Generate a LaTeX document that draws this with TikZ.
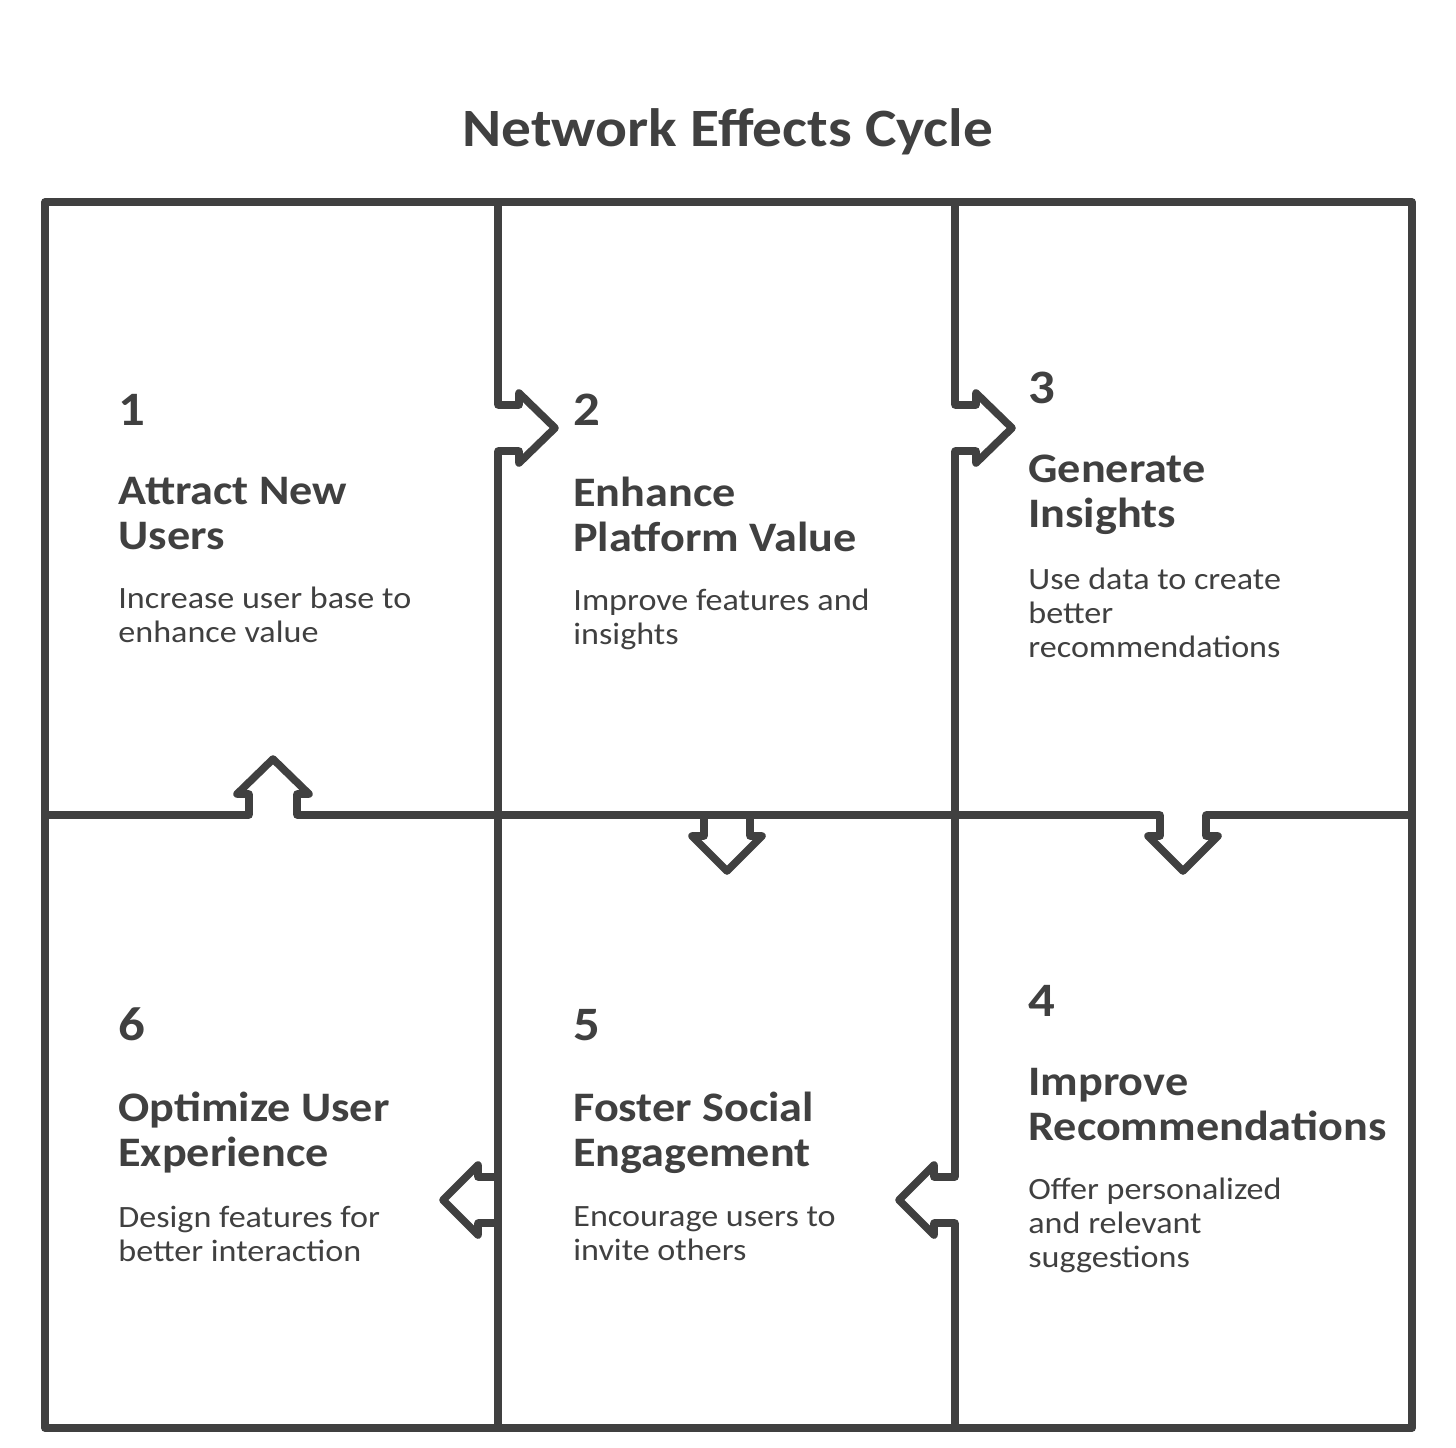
\documentclass[tikz,border=0pt]{standalone}
\usepackage{fontspec}
\setmainfont{Carlito}[FakeStretch=1.1]
\usetikzlibrary{positioning}
\definecolor{ink}{HTML}{404040}

\begin{document}
\begin{tikzpicture}[x=0.5pt, y=-0.5pt,
  wall/.style={draw=ink, line width=3.8pt, line join=round, line cap=round},
  title/.style={anchor=base, inner sep=0pt, text=ink,
                font=\fontsize{27}{32}\selectfont\bfseries},
  num/.style={anchor=base west, inner sep=0pt, text=ink,
              font=\fontsize{24}{28}\selectfont\bfseries},
  head/.style={anchor=north west, inner sep=0pt, align=left, text=ink,
               font=\fontsize{21}{22.5}\selectfont\bfseries},
  desc/.style={anchor=north west, inner sep=0pt, align=left, text=ink,
               font=\fontsize{15.5}{17}\selectfont}]
\useasboundingbox (0,0) rectangle (1456,1447);

\node[title] (title) at (728,146) {Network Effects Cycle};

% grid with arrow tabs
\draw[wall] (45,202) rectangle (1412,1428);
\draw[wall] (498,202) -- (498,405) -- (519,405) -- (519,393) -- (555,428)
  -- (519,463) -- (519,451) -- (498,451) -- (498,1428);
\draw[wall] (498,1177) -- (478,1177) -- (478,1165) -- (443,1200)
  -- (478,1235) -- (478,1223) -- (498,1223);
\draw[wall] (955,202) -- (955,405) -- (976,405) -- (976,393) -- (1012,428)
  -- (976,463) -- (976,451) -- (955,451) -- (955,1177) -- (934,1177)
  -- (934,1165) -- (899,1200) -- (934,1235) -- (934,1223) -- (955,1223)
  -- (955,1428);
\draw[wall] (45,815) -- (249,815) -- (249,794) -- (237,794) -- (273,759)
  -- (309,794) -- (297,794) -- (297,815) -- (1160,815) -- (1160,836)
  -- (1148,836) -- (1183,871) -- (1218,836) -- (1206,836) -- (1206,815)
  -- (1412,815);
\draw[wall] (704,815) -- (704,836) -- (692,836) -- (727,871)
  -- (762,836) -- (750,836) -- (750,815);

% top row
\node[num] (n1) at (118,425) {1};
\node[below=26pt of n1.base west, head] (h1) {Attract New\\Users};
\node[below=18pt of h1.south west, desc] (d1) {Increase user base to\\enhance value};

\node[num] (n2) at (573,425) {2};
\node[below=26pt of n2.base west, head] (h2) {Enhance\\Platform Value};
\node[below=18pt of h2.south west, desc] (d2) {Improve features and\\insights};

\node[num] (n3) at (1028,403) {3};
\node[below=26pt of n3.base west, head] (h3) {Generate\\Insights};
\node[below=16pt of h3.south west, desc] (d3) {Use data to create\\better\\recommendations};

% bottom row
\node[num] (n4) at (1028,1016) {4};
\node[below=26pt of n4.base west, head] (h4) {Improve\\Recommendations};
\node[below=18pt of h4.south west, desc] (d4) {Offer personalized\\and relevant\\suggestions};

\node[num] (n5) at (573,1040) {5};
\node[below=26pt of n5.base west, head] (h5) {Foster Social\\Engagement};
\node[below=16pt of h5.south west, desc] (d5) {Encourage users to\\invite others};

\node[num] (n6) at (118,1040) {6};
\node[below=26pt of n6.base west, head] (h6) {Optimize User\\Experience};
\node[below=16pt of h6.south west, desc] (d6) {Design features for\\better interaction};
\end{tikzpicture}
\end{document}
